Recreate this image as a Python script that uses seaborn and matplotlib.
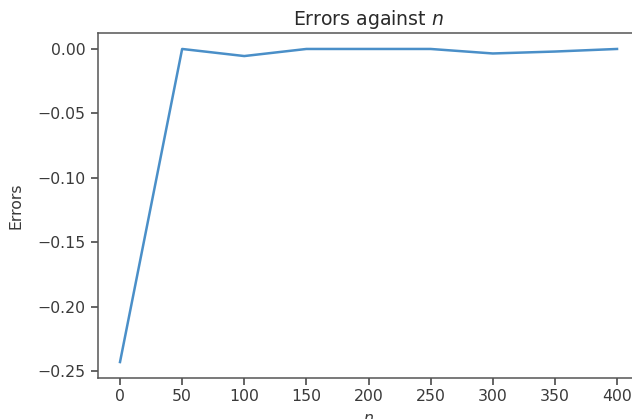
import pandas as pd
import matplotlib
matplotlib.use('Agg')
import matplotlib.pyplot as plt
import seaborn as sns

n_values = [0, 50, 100, 150, 200, 250, 300, 350, 400]
errors = [-0.243, 0.0, -0.0055, 0.0, 0.0, 0.0, -0.0035, -0.002, 0.0]
x_ticks = [0, 50, 100, 150, 200, 250, 300, 350, 400]
y_ticks = [0.0, -0.05, -0.10, -0.15, -0.20, -0.25]
y_labels = ['0.00', '\u22120.05', '\u22120.10', '\u22120.15', '\u22120.20', '\u22120.25']

df = pd.DataFrame({'n': n_values, 'Errors': errors})

fig = plt.figure(figsize=(6.32, 4.19), dpi=100)
# axes run a little past the right edge, like the cropped original
ax = fig.add_axes([0.1545, 0.0986, 0.8572, 0.8219])

sns.lineplot(x='n', y='Errors', data=df, ax=ax, color='#4a8fc8', linewidth=1.8)
ax.margins(x=0.045)

ax.set_xticks(x_ticks)
ax.set_yticks(y_ticks)
ax.set_yticklabels(y_labels)
ax.tick_params(labelsize=11.3, colors='#3a3a3a', length=5, width=1.1)
for s in ax.spines.values():
    s.set_color('#555555')
    s.set_linewidth(1.1)
ax.set_xlabel('$n$', fontsize=11.3, color='#3a3a3a', labelpad=5)
ax.set_ylabel('Errors', fontsize=11.3, color='#3a3a3a', labelpad=10)
ax.set_title('Errors against $n$', fontsize=13.6, color='#2a2a2a')

fig.savefig('out.png', dpi=100)
